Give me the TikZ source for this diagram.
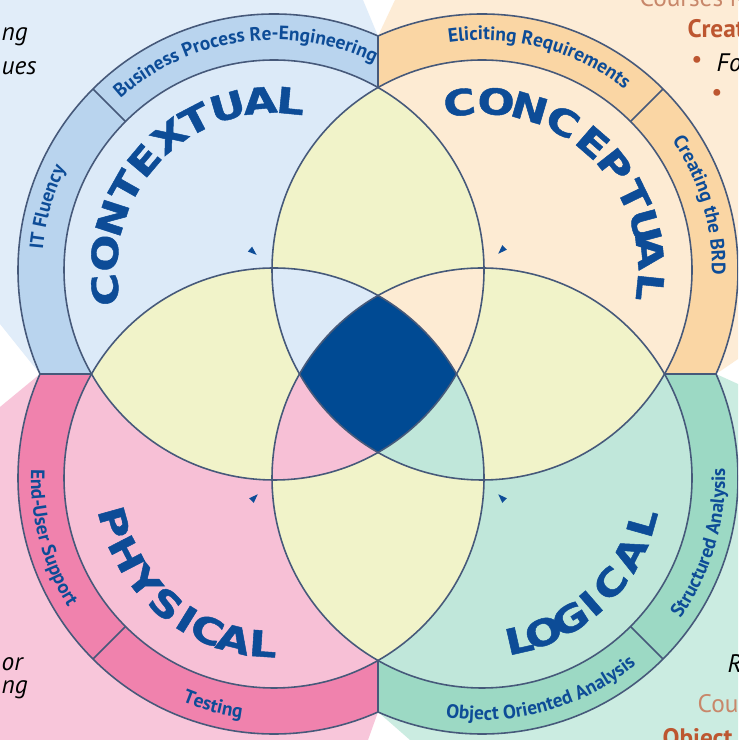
\documentclass[tikz,border=0pt]{standalone}
\usepackage{fontspec}
\setmainfont{PT Sans}
\newfontfamily\widefont{DejaVu Sans Bold}[FakeBold=1.2]
\usetikzlibrary{decorations.text}

\definecolor{ink}{HTML}{0D4C97}
\definecolor{wheelgrey}{HTML}{46597A}
\definecolor{lens}{HTML}{F1F3C9}
\definecolor{core}{HTML}{004A93}
\definecolor{ctxbg}{HTML}{E1EDF9}
\definecolor{ctxin}{HTML}{DCEAF8}
\definecolor{ctxring}{HTML}{B9D4EE}
\definecolor{cptbg}{HTML}{FDECD6}
\definecolor{cptin}{HTML}{FDEBD3}
\definecolor{cptring}{HTML}{FAD6A4}
\definecolor{phybg}{HTML}{F8C6DA}
\definecolor{phyin}{HTML}{F7C0D6}
\definecolor{phyring}{HTML}{F082AD}
\definecolor{logbg}{HTML}{CBECE1}
\definecolor{login}{HTML}{C0E7DA}
\definecolor{logring}{HTML}{9CD9C4}
\definecolor{rust}{HTML}{BD5630}
\definecolor{tan}{HTML}{C8876A}

\newcommand\ringfont{\bfseries\fontsize{5.5}{6}\selectfont}
\def\R{2.1}
\def\Ro{2.56}

\begin{document}
\begin{tikzpicture}[
    wheelline/.style={draw=wheelgrey, line width=0.45pt},
    bigword/.style={text=ink, inner sep=0pt, font=\widefont\fontsize{10.2}{10}\selectfont},
    ringtext/.style={decorate, decoration={text along path, text align=center, text color=ink, text={|\ringfont|#1}}},
    aside/.style={inner sep=0pt, anchor=base west, font=\itshape\fontsize{7.2}{8}\selectfont},
    course/.style={inner sep=0pt, anchor=base west, text=rust, font=\bfseries\fontsize{7.2}{8}\selectfont}
  ]
  \useasboundingbox (-3.78,-3.66) rectangle (3.60,3.74);
  \clip (-3.78,-3.66) rectangle (3.60,3.74);

  \coordinate (ctx) at (-1.04, 1.04);
  \coordinate (cpt) at ( 1.04, 1.04);
  \coordinate (phy) at (-1.04,-1.04);
  \coordinate (log) at ( 1.04,-1.04);

  % page panels behind the wheel
  \fill[white] (-3.78,-3.66) rectangle (3.60,3.74);
  \fill[ctxbg] (-3.78,3.74) -- (-0.15,3.74) -- (0,3.38) -- (-3.38,0) -- (-3.78,0.5) -- cycle;
  \fill[cptbg] (0.17,3.74) -- (3.60,3.74) -- (3.60,0.15) -- (3.38,0) -- (0,3.38) -- cycle;
  \fill[phybg] (-3.78,-0.33) -- (-3.38,0) -- (0,-3.38) -- (-0.10,-3.66) -- (-3.78,-3.66) -- cycle;
  \fill[logbg] (0.32,-3.66) -- (0,-3.38) -- (3.38,0) -- (3.60,-0.10) -- (3.60,-3.66) -- cycle;

  % outer bands, one quarter each
  \foreach \c/\col/\qx/\qy in {ctx/ctxring/-1/1, cpt/cptring/1/1, phy/phyring/-1/-1, log/logring/1/-1} {
    \begin{scope}
      \clip (0,0) rectangle (4*\qx,4*\qy);
      \fill[\col, even odd rule] (\c) circle (\Ro) (\c) circle (\R);
      \draw[wheelline] (\c) circle (\Ro);
    \end{scope}
  }

  % the four circles
  \foreach \c/\col in {ctx/ctxin, cpt/cptin, phy/phyin, log/login}
    \fill[\col] (\c) circle (\R);
  % neighbours overlap in yellow
  \foreach \a/\b in {ctx/cpt, cpt/log, log/phy, phy/ctx} {
    \begin{scope}
      \clip (\a) circle (\R);
      \fill[lens] (\b) circle (\R);
    \end{scope}
  }
  % three at once take the colour of the middle one
  \foreach \m/\a/\b/\col in {ctx/cpt/phy/ctxin, cpt/ctx/log/cptin, phy/ctx/log/phyin, log/cpt/phy/login} {
    \begin{scope}
      \clip (\a) circle (\R);
      \clip (\b) circle (\R);
      \fill[\col] (\m) circle (\R);
    \end{scope}
  }
  \begin{scope}
    \clip (ctx) circle (\R);
    \clip (cpt) circle (\R);
    \clip (phy) circle (\R);
    \fill[core] (log) circle (\R);
  \end{scope}
  \foreach \c in {ctx,cpt,phy,log}
    \draw[wheelline] (\c) circle (\R);

  % band ends and dividers
  \foreach \r in {0,90,180,270}
    \draw[wheelline, rotate=\r] (0,2.86) -- (0,3.38);
  \foreach \c/\a in {ctx/135, cpt/45, phy/225, log/315}
    \draw[wheelline] ([shift={(\a:\R)}]\c) -- ([shift={(\a:\Ro)}]\c);

  % little markers near the centres
  \foreach \c/\a in {ctx/139, cpt/45, phy/225, log/315} {
    \coordinate (m) at ([shift={(\a:0.28)}]\c);
    \fill[ink] (m) +({\a+180}:0.05) -- +({\a+40}:0.05) -- +({\a-40}:0.05) -- cycle;
  }

  % band labels
  \path[ringtext={Business Process Re-Engineering}] ([shift={(138:2.30)}]ctx) arc[start angle=138, end angle=58, radius=2.30];
  \path[ringtext={IT Fluency}] ([shift={(195:2.32)}]ctx) arc[start angle=195, end angle=134, radius=2.32];
  \path[ringtext={Eliciting Requirements}] ([shift={(115:2.30)}]cpt) arc[start angle=115, end angle=35, radius=2.30];
  \path[ringtext={Creating the BRD}] ([shift={(50:2.30)}]cpt) arc[start angle=50, end angle=-17, radius=2.30];
  \path[ringtext={End-User Support}] ([shift={(160:2.43)}]phy) arc[start angle=160, end angle=230, radius=2.43];
  \path[ringtext={Testing}] ([shift={(230:2.42)}]phy) arc[start angle=230, end angle=280, radius=2.42];
  \path[ringtext={Object Oriented Analysis}] ([shift={(250:2.42)}]log) arc[start angle=250, end angle=321, radius=2.42];
  \path[ringtext={Structured Analysis}] ([shift={(-50:2.43)}]log) arc[start angle=-50, end angle=17, radius=2.43];

  % the four big words, letter by letter
  \foreach \ch/\ang in {C/186.7, O/174.3, N/162.1, T/150.6, E/139.9, X/128, T/117.6, U/105.9, A/94.7, L/84.4}
    \node[bigword, rotate=\ang-90] at ([shift={(\ang:1.70)}]ctx) {\scalebox{1.22}[1]{\ch}};
  \foreach \ch/\ang in {C/97.7, O/85.2, N/73.6, C/61.4, E/49, P/38.2, T/26, U/15, A/5.9, L/-5.9}
    \node[bigword, rotate=\ang-90] at ([shift={(\ang:1.69)}]cpt) {\scalebox{1.22}[1]{\ch}};
  \foreach \ch/\ang in {P/195.6, H/207.3, Y/218.6, S/229.4, I/238.3, C/246.3, A/256, L/266.2}
    \node[bigword, rotate=\ang+90] at ([shift={(\ang:1.66)}]phy) {\scalebox{1.22}[1]{\ch}};
  \foreach \ch/\ang in {L/282.9, O/291.7, G/302, I/311, C/320.6, A/332.8, L/344.3}
    \node[bigword, rotate=\ang+90] at ([shift={(\ang:1.66)}]log) {\scalebox{1.22}[1]{\ch}};

  % bits of the page text around the wheel
  \node[aside] (tl1) at (-3.77,3.33) {ng};
  \node[aside] (tl2) at (-3.77,2.99) {ues};
  \node[aside] (bl1) at (-3.77,-2.96) {or};
  \node[aside] (bl2) at (-3.77,-3.19) {ng};
  \node[aside, text=tan, font=\fontsize{7.2}{8}\selectfont] (tr0) at (2.61,3.67) {Courses Map};
  \node[course] (tr1) at (3.09,3.36) {Creati};
  \node[text=rust, inner sep=0pt, font=\fontsize{7}{8}\selectfont] (b1) at (3.19,3.12) {•};
  \node[text=rust, inner sep=0pt, font=\fontsize{7}{8}\selectfont] (b2) at (3.39,2.79) {•};
  \node[aside] (tr2) at (3.38,3.02) {Fo};
  \node[aside] (br1) at (3.49,-2.98) {R};
  \node[aside, text=tan, font=\fontsize{7.2}{8}\selectfont] (br2) at (3.19,-3.38) {Cours};
  \node[course] (br3) at (2.84,-3.72) {Object O};
\end{tikzpicture}
\end{document}
